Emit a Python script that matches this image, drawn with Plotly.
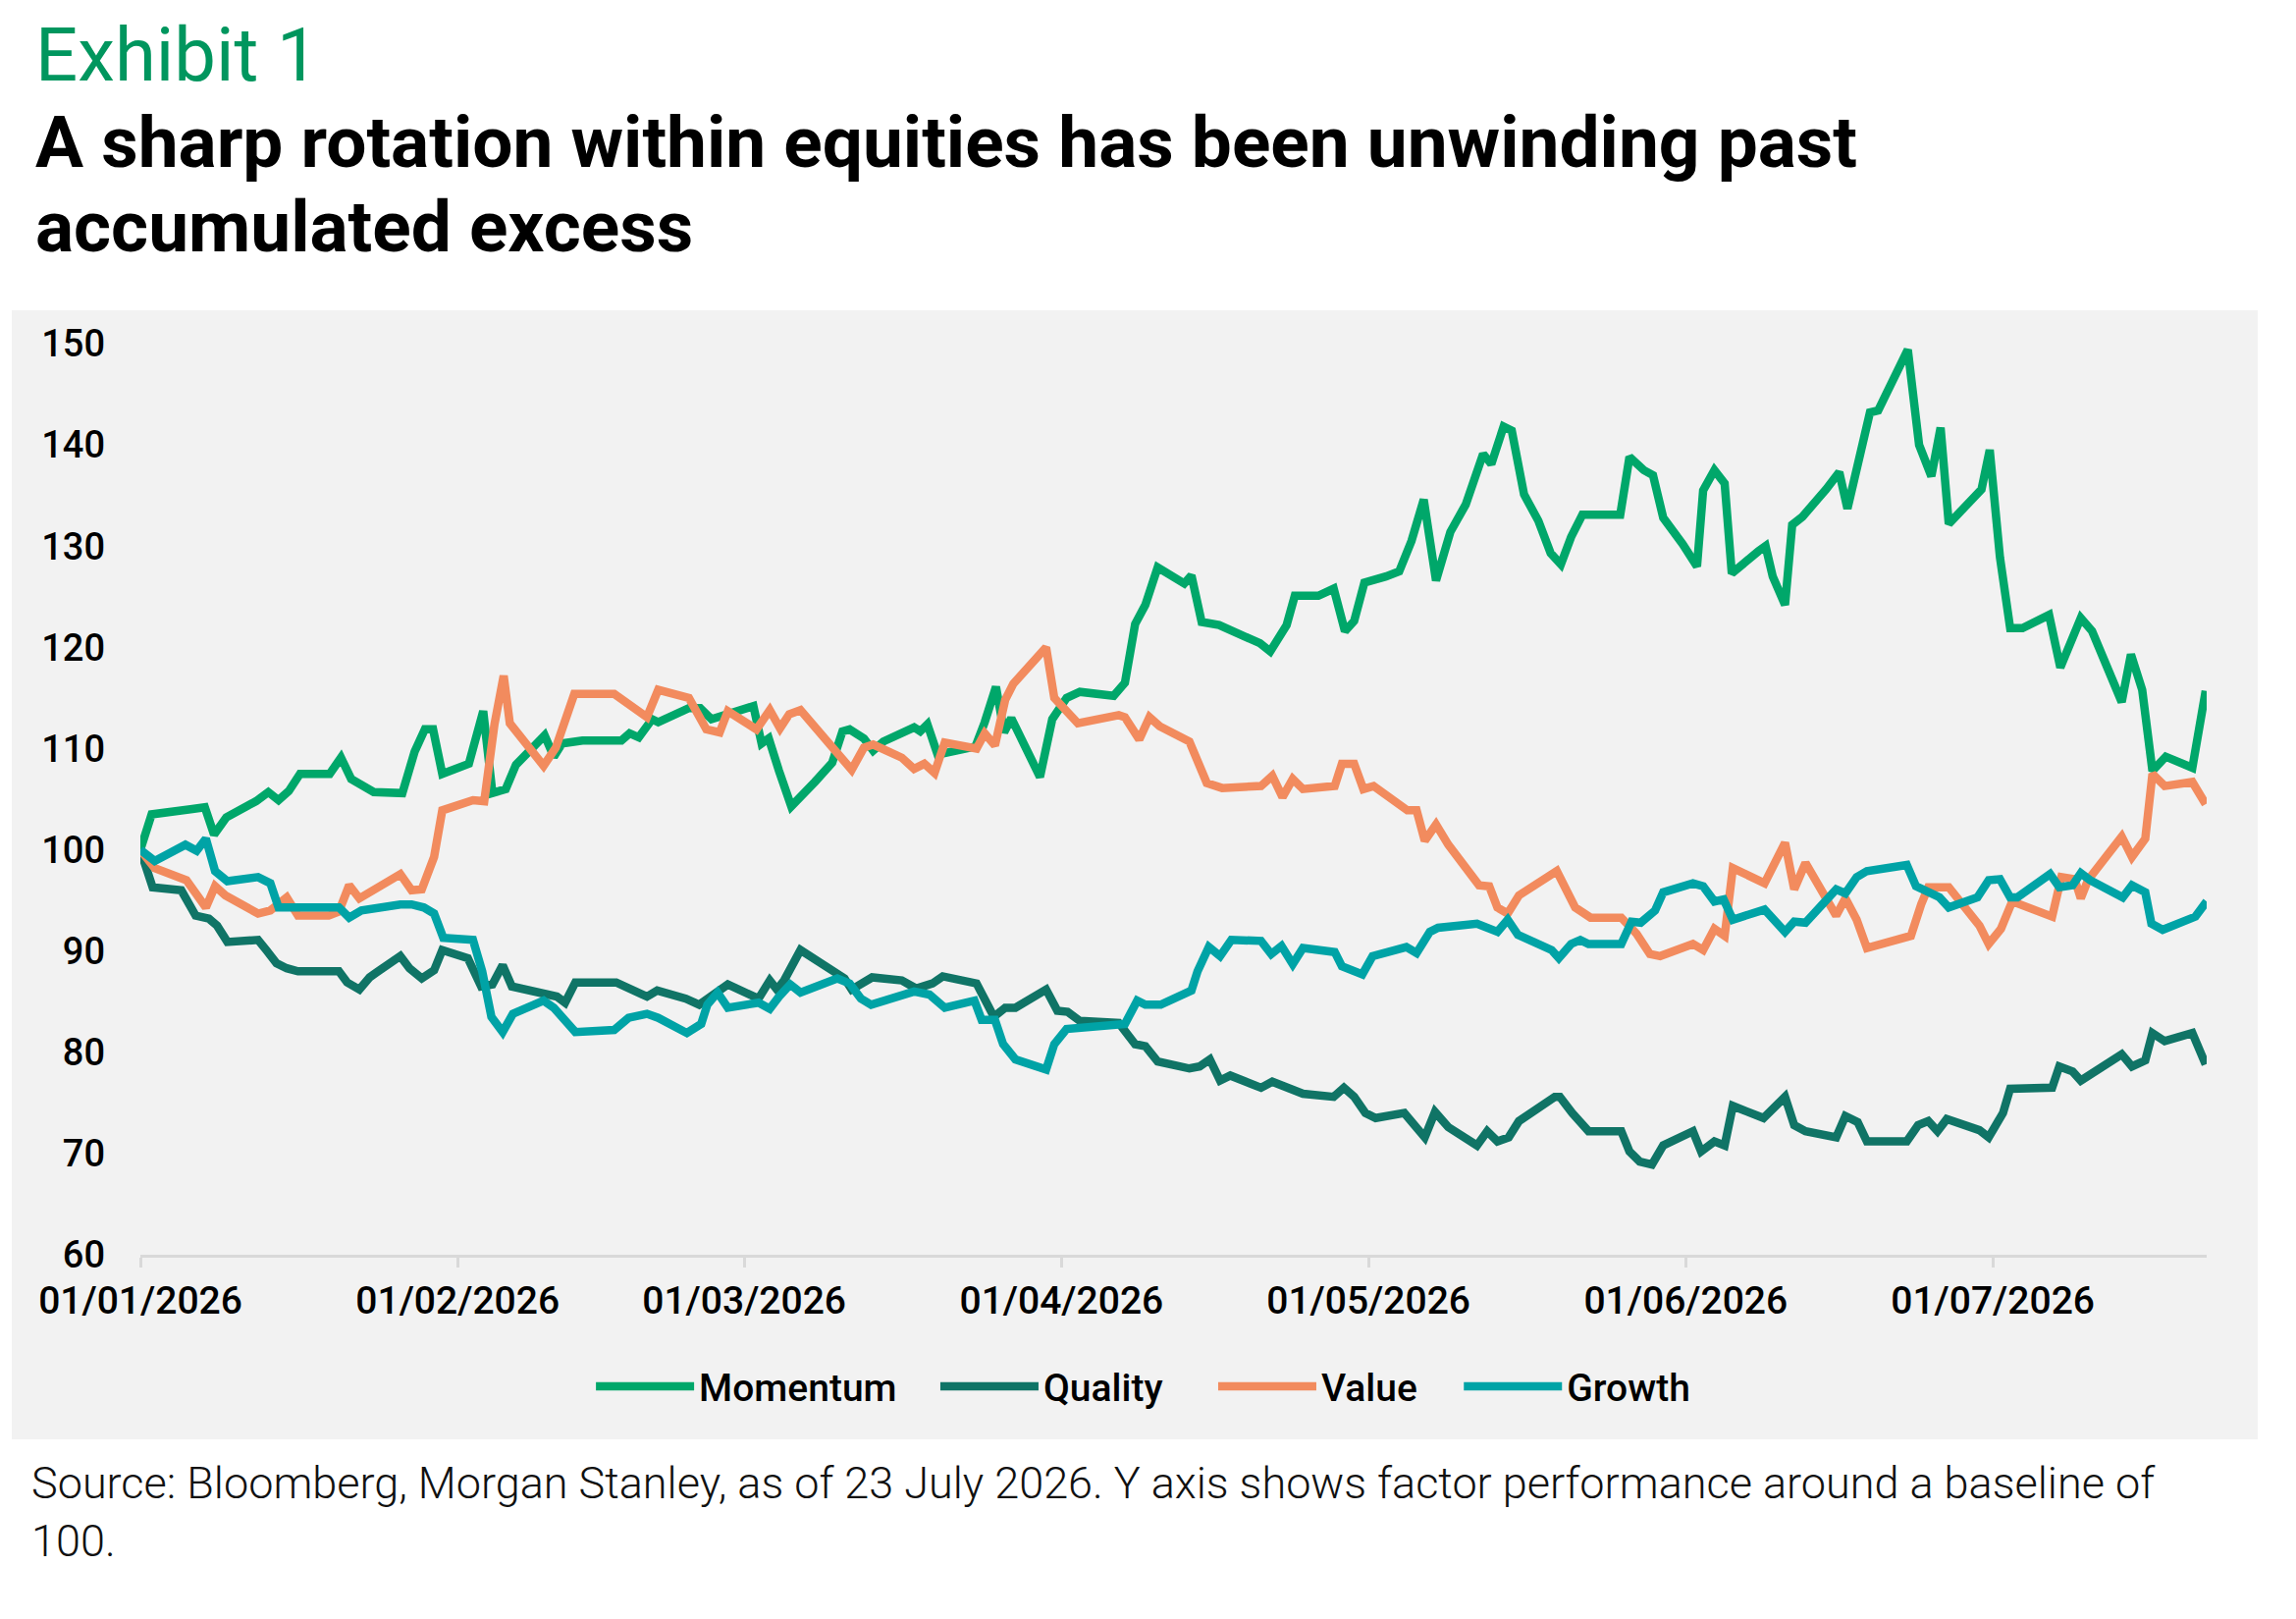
import pandas as pd
import plotly.graph_objects as go

# day offsets from 01/01/2026 and index levels
momentum_days = [0, 1.1, 4.9, 6.3, 7.2, 8.4, 11.3, 12.5, 13.5, 14.5, 15.6, 18.5, 19.6, 20.6, 22.8,
                 25.6, 26.8, 27.8, 28.6, 29.5, 32.1, 33.5, 34.4, 35.7, 36.7, 38.1, 39.5, 40.4, 41.2,
                 43.2, 47.0, 47.8, 48.7, 50.0, 50.6, 53.6, 54.7, 55.8, 59.9, 60.7, 61.4, 62.4, 63.6,
                 65.9, 67.6, 68.6, 69.3, 70.7, 71.6, 72.6, 74.5, 75.6, 76.2, 76.9, 77.9, 81.6, 82.5,
                 83.6, 84.4, 85.1, 87.9, 89.1, 90.5, 91.8, 95.1, 96.2, 97.2, 98.2, 99.4, 102.0, 102.7,
                 103.7, 105.4, 107.3, 109.4, 110.4, 112.0, 112.8, 115.1, 116.6, 117.7, 118.6, 119.6,
                 121.7, 123.0, 124.2, 125.4, 126.6, 128.0, 129.5, 131.2, 132.0, 133.2, 134.0, 135.2,
                 136.6, 137.8, 138.8, 139.8, 140.9, 144.6, 145.5, 146.9, 147.8, 148.8, 150.7, 152.1,
                 152.7, 153.1, 153.8, 154.8, 155.5, 158.1, 158.8, 159.5, 160.7, 161.4, 162.4, 164.7,
                 166.0, 166.8, 167.8, 169.0, 169.8, 172.7, 173.8, 175.0, 175.9, 176.7, 179.9, 180.7,
                 181.7, 182.7, 183.9, 186.5, 187.6, 189.6, 190.7, 193.6, 194.5, 195.6, 196.6, 197.9,
                 200.5, 201.8]
momentum = [100, 103.5, 104.0, 104.2, 101.5, 103.2, 104.8, 105.7, 104.9, 105.8, 107.5, 107.5, 109.1,
            107.0, 105.7, 105.6, 109.7, 111.9, 111.9, 107.5, 108.5, 113.7, 105.6, 106.0, 108.4, 110.0,
            111.3, 109.2, 110.5, 110.8, 110.8, 111.5, 111.1, 112.9, 112.6, 114.0, 114.0, 112.9, 114.2,
            110.5, 111.0, 107.8, 104.3, 106.7, 108.6, 111.7, 111.9, 111.0, 109.8, 110.7, 111.7, 112.1,
            111.7, 112.4, 109.4, 110.2, 112.6, 116.1, 111.6, 113.0, 107.2, 112.9, 115.0, 115.6, 115.2,
            116.5, 122.3, 124.2, 127.9, 126.3, 127.1, 122.5, 122.2, 121.3, 120.4, 119.6, 122.2, 125.1,
            125.1, 125.8, 121.6, 122.6, 126.4, 127.0, 127.5, 130.5, 134.6, 126.6, 131.4, 134.1, 139.1,
            138.1, 141.8, 141.4, 135.1, 132.5, 129.3, 128.2, 130.9, 133.1, 133.1, 138.8, 137.5, 137.0,
            132.8, 130.2, 128.0, 135.5, 136.3, 137.5, 136.2, 127.3, 129.5, 130.0, 127.0, 124.2, 132.1,
            132.9, 135.6, 137.3, 133.7, 138.4, 143.2, 143.4, 149.4, 140.0, 136.9, 141.7, 132.2, 135.6,
            139.5, 128.9, 121.9, 121.9, 123.2, 118.0, 122.9, 121.6, 114.6, 119.3, 115.8, 107.8, 109.2,
            108.1, 115.7]

quality_days = [0, 1.2, 4.0, 5.4, 6.7, 7.5, 8.5, 11.5, 12.3, 13.3, 14.3, 15.4, 19.4, 20.2, 21.4, 22.4,
                23.1, 25.4, 26.3, 27.5, 28.7, 29.5, 32.0, 33.3, 34.4, 35.4, 36.3, 40.7, 41.5, 42.5,
                46.5, 48.0, 49.5, 50.5, 53.3, 54.6, 57.4, 60.4, 61.5, 62.2, 62.9, 64.5, 68.8, 69.5,
                71.5, 74.4, 75.8, 77.4, 78.4, 81.7, 83.4, 84.5, 85.5, 88.5, 89.6, 90.6, 91.8, 95.6,
                97.2, 98.2, 99.4, 102.5, 103.5, 104.5, 105.5, 106.5, 109.5, 110.6, 112.4, 113.6, 116.6,
                117.6, 118.6, 119.7, 120.7, 123.5, 125.5, 126.5, 127.8, 130.6, 131.6, 132.6, 133.7,
                134.7, 138.2, 138.7, 139.9, 141.5, 144.7, 145.5, 146.5, 147.7, 148.8, 151.7, 152.5,
                153.8, 154.8, 155.6, 158.6, 160.7, 161.6, 162.7, 165.7, 166.6, 167.8, 168.7, 172.6,
                173.7, 174.7, 175.6, 176.5, 179.7, 180.6, 182.0, 182.7, 186.8, 187.5, 188.8, 189.6,
                193.6, 194.6, 195.9, 196.6, 197.8, 200.5, 201.8]
quality = [100, 96.3, 96.0, 93.5, 93.2, 92.5, 90.9, 91.1, 90.1, 88.8, 88.3, 88.0, 88.0, 86.9, 86.2,
           87.4, 87.9, 89.5, 88.3, 87.3, 88.1, 90.1, 89.3, 86.5, 86.7, 88.6, 86.5, 85.5, 84.9, 86.9,
           86.9, 86.3, 85.5, 86.1, 85.3, 84.7, 86.7, 85.3, 87.1, 86.2, 87.1, 90.1, 87.3, 86.2, 87.4,
           87.1, 86.3, 86.8, 87.5, 86.8, 83.5, 84.4, 84.4, 86.2, 84.1, 84.0, 83.1, 82.9, 80.8, 80.6,
           79.1, 78.4, 78.6, 79.3, 77.2, 77.7, 76.5, 77.1, 76.5, 75.9, 75.6, 76.5, 75.6, 74.0, 73.5,
           74.0, 71.6, 74.1, 72.6, 70.8, 72.2, 71.2, 71.6, 73.2, 75.6, 75.6, 74.0, 72.2, 72.2, 70.2,
           69.2, 68.9, 70.8, 72.2, 70.2, 71.2, 70.8, 74.7, 73.5, 75.6, 72.8, 72.2, 71.6, 73.7, 73.1,
           71.2, 71.2, 72.8, 73.2, 72.2, 73.4, 72.3, 71.6, 74.0, 76.4, 76.5, 78.6, 78.1, 77.2, 79.8,
           78.6, 79.2, 81.9, 81.1, 81.9, 78.8]

value_days = [0, 1.4, 4.5, 5.4, 6.4, 7.3, 8.3, 11.5, 12.7, 14.3, 15.4, 18.4, 19.4, 20.4, 21.4, 25.4,
              26.5, 27.5, 28.7, 29.5, 32.5, 33.6, 34.6, 35.5, 36.1, 39.4, 40.6, 42.4, 46.3, 49.5,
              50.6, 53.6, 55.3, 56.6, 57.4, 60.2, 61.5, 62.5, 63.4, 64.5, 67.5, 69.5, 70.7, 71.6,
              74.4, 75.6, 76.6, 77.6, 78.6, 81.7, 82.5, 83.5, 84.5, 85.3, 88.5, 89.3, 91.6, 95.6,
              96.2, 97.6, 98.6, 99.6, 102.5, 103.2, 104.2, 105.7, 109.5, 110.6, 111.6, 112.6, 113.6,
              116.7, 117.4, 118.6, 119.5, 120.5, 123.8, 124.7, 125.5, 126.6, 127.8, 130.8, 131.8,
              132.6, 133.6, 134.7, 138.4, 140.2, 141.7, 144.7, 146.2, 147.5, 148.5, 151.7, 152.7,
              153.8, 154.8, 155.6, 158.7, 160.7, 161.6, 162.7, 165.7, 166.6, 167.7, 168.7, 173.0,
              174.0, 174.7, 176.7, 179.7, 180.6, 181.8, 182.9, 186.8, 187.7, 189.0, 189.6, 190.3,
              193.6, 194.6, 195.9, 196.6, 197.8, 200.5, 201.8]
value = [100, 98.2, 97.0, 95.7, 94.3, 96.4, 95.5, 93.7, 94.0, 95.3, 93.5, 93.5, 93.9, 96.5, 95.2,
         97.6, 96.0, 96.1, 99.3, 103.9, 104.9, 104.8, 112.4, 117.2, 112.5, 108.3, 110.1, 115.4, 115.4,
         113.1, 115.8, 115.0, 111.9, 111.6, 113.7, 111.9, 113.8, 112.0, 113.4, 113.8, 110.1, 107.9,
         110.1, 110.4, 109.1, 108.0, 108.5, 107.6, 110.6, 110.0, 111.5, 110.3, 114.8, 116.4, 120.0,
         115.0, 112.5, 113.3, 113.1, 110.9, 113.1, 112.2, 110.7, 108.9, 106.6, 106.1, 106.3, 107.3,
         105.2, 107.0, 106.0, 106.3, 108.5, 108.5, 106.0, 106.3, 103.9, 103.9, 100.9, 102.5, 100.5,
         96.5, 96.4, 94.3, 93.7, 95.5, 97.9, 94.3, 93.3, 93.3, 91.7, 89.7, 89.5, 90.7, 90.1, 92.2,
         91.5, 98.2, 96.7, 100.7, 96.1, 98.7, 93.5, 95.2, 93.1, 90.3, 91.5, 94.6, 96.3, 96.3, 92.5,
         90.7, 92.2, 94.9, 93.4, 97.3, 97.1, 95.2, 97.0, 101.3, 99.3, 101.1, 107.5, 106.3, 106.7,
         104.5]

growth_days = [0, 1.4, 4.4, 5.5, 6.4, 7.3, 8.5, 11.5, 12.7, 13.5, 15.4, 19.4, 20.4, 21.6, 25.4, 26.5,
               27.7, 28.7, 29.6, 32.5, 33.4, 34.3, 35.4, 36.4, 39.4, 40.4, 42.5, 46.3, 47.7, 49.5,
               50.6, 53.4, 54.8, 55.4, 56.4, 57.4, 60.4, 61.5, 62.4, 63.5, 64.5, 68.1, 69.3, 70.4,
               71.4, 74.4, 75.6, 77.1, 78.6, 81.5, 82.2, 83.5, 84.3, 85.5, 88.5, 89.3, 90.5, 96.2,
               97.4, 98.2, 99.7, 102.7, 103.3, 104.4, 105.5, 106.6, 109.5, 110.5, 111.5, 112.6,
               113.6, 116.7, 117.4, 119.4, 120.4, 123.7, 124.7, 126.0, 126.8, 130.6, 132.6, 133.6,
               134.6, 137.9, 138.6, 139.8, 140.7, 141.5, 144.7, 145.7, 146.6, 148.0, 148.8, 151.7,
               152.7, 153.8, 154.7, 155.6, 158.7, 160.7, 161.6, 162.7, 165.7, 166.6, 167.7, 168.7,
               172.6, 173.5, 175.8, 176.7, 179.5, 180.6, 181.7, 182.7, 183.4, 186.6, 187.5, 188.8,
               189.6, 190.5, 193.7, 194.6, 195.9, 196.5, 197.6, 200.8, 201.9]
growth = [100, 98.9, 100.5, 99.9, 101.1, 97.9, 96.9, 97.3, 96.7, 94.3, 94.3, 94.3, 93.3, 94.0, 94.6,
          94.6, 94.3, 93.7, 91.3, 91.1, 88.0, 83.5, 82.0, 83.8, 85.1, 84.4, 82.0, 82.2, 83.4, 83.8,
          83.4, 81.9, 82.8, 84.7, 85.9, 84.4, 84.9, 84.3, 85.5, 86.7, 85.9, 87.3, 86.8, 85.3, 84.7,
          85.6, 86.0, 85.7, 84.4, 85.1, 83.2, 83.2, 80.8, 79.3, 78.3, 80.8, 82.3, 82.8, 85.1, 84.7,
          84.7, 86.1, 88.0, 90.4, 89.5, 91.1, 91.0, 89.7, 90.5, 88.7, 90.3, 89.9, 88.5, 87.7, 89.5,
          90.4, 89.8, 91.9, 92.3, 92.7, 91.9, 93.1, 91.6, 90.1, 89.3, 90.7, 91.1, 90.7, 90.7, 92.9,
          92.8, 94.0, 95.8, 96.7, 96.4, 94.9, 95.1, 93.1, 94.1, 91.9, 92.9, 92.8, 96.1, 95.7, 97.3,
          97.9, 98.5, 96.4, 95.3, 94.3, 95.3, 97.0, 97.1, 95.3, 95.3, 97.6, 96.3, 96.5, 97.7, 97.0,
          95.3, 96.5, 95.8, 92.7, 92.1, 93.4, 94.9]

month_ticks = ["2026-01-01", "2026-02-01", "2026-03-01", "2026-04-01",
               "2026-05-01", "2026-06-01", "2026-07-01"]
month_labels = ["01/01/2026", "01/02/2026", "01/03/2026", "01/04/2026",
                "01/05/2026", "01/06/2026", "01/07/2026"]

start = pd.Timestamp("2026-01-01")


def to_dates(days):
    return start + pd.to_timedelta(days, unit="D")


# name, x, y, colour, legend id, legend left edge (fraction of the page width)
series = [
    ("Momentum", momentum_days, momentum, "#00A76A", "legend", 0.254),
    ("Quality", quality_days, quality, "#107466", "legend2", 0.404),
    ("Value", value_days, value, "#F28B5E", "legend3", 0.525),
    ("Growth", growth_days, growth, "#00A3A6", "legend4", 0.632),
]

fig = go.Figure()
legends = {}
for name, days, vals, colour, leg, leg_x in series:
    fig.add_trace(go.Scatter(
        x=to_dates(days), y=vals, name=name, mode="lines", legend=leg,
        line=dict(color=colour, width=8.5), cliponaxis=False,
    ))
    legends[leg] = dict(orientation="h", xref="container", yref="container",
                        x=leg_x, y=0.1485, xanchor="left", yanchor="middle",
                        bgcolor="rgba(0,0,0,0)", itemwidth=100,
                        font=dict(family="Roboto", size=39, weight=500))

# grey panel behind the chart, legend and axis labels
fig.add_shape(type="rect", xref="paper", yref="paper", layer="below",
              x0=-0.0622, x1=1.0247, y0=-0.2026, y1=1.0366,
              fillcolor="#F2F2F2", line_width=0)

fig.add_annotation(text="Exhibit 1", xref="paper", yref="paper", x=-0.0518, y=1.3168,
                   xanchor="left", yanchor="middle", showarrow=False,
                   font=dict(family="Roboto", size=76, color="#00965E"))
fig.add_annotation(text="A sharp rotation within equities has been unwinding past",
                   xref="paper", yref="paper", x=-0.0518, y=1.2209,
                   xanchor="left", yanchor="middle", showarrow=False,
                   font=dict(family="Roboto", size=73, color="#000000", weight="bold"))
fig.add_annotation(text="accumulated excess",
                   xref="paper", yref="paper", x=-0.0518, y=1.1282,
                   xanchor="left", yanchor="middle", showarrow=False,
                   font=dict(family="Roboto", size=73, color="#000000", weight="bold"))
fig.add_annotation(text="Source: Bloomberg, Morgan Stanley, as of 23 July 2026. Y axis shows factor "
                        "performance around a baseline of",
                   xref="paper", yref="paper", x=-0.0537, y=-0.2500,
                   xanchor="left", yanchor="middle", showarrow=False,
                   font=dict(family="Roboto", size=45, color="#111111", weight=300))
fig.add_annotation(text="100.", xref="paper", yref="paper", x=-0.0537, y=-0.3136,
                   xanchor="left", yanchor="middle", showarrow=False,
                   font=dict(family="Roboto", size=45, color="#111111", weight=300))

fig.update_layout(
    width=2339, height=1649,
    margin=dict(l=135, r=99, t=342, b=379),
    paper_bgcolor="white", plot_bgcolor="rgba(0,0,0,0)",
    font=dict(family="Roboto", color="#000000"),
    showlegend=True,
    **legends,
)
fig.update_xaxes(
    type="date", range=[start, to_dates([201.9])[0]],
    tickvals=month_ticks, ticktext=month_labels,
    showgrid=False, zeroline=False,
    showline=True, linecolor="#D9D9D9", linewidth=3,
    ticks="outside", ticklen=10, tickwidth=3, tickcolor="#D9D9D9",
    tickfont=dict(family="Roboto", size=39, weight=500),
)
fig.update_yaxes(
    range=[60, 150], dtick=10, showgrid=False, zeroline=False, showline=False,
    ticks="", ticklabelstandoff=35,
    tickfont=dict(family="Roboto", size=38, weight=500),
)

fig.write_html("out.html")
